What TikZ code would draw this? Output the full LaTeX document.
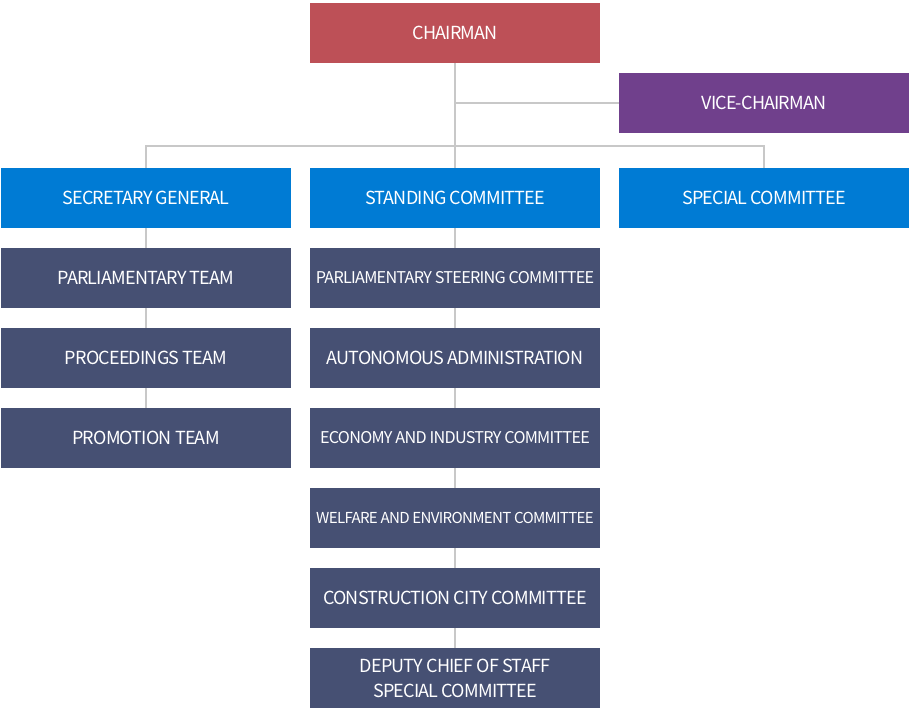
\documentclass[tikz,border=0pt]{standalone}
\usepackage{fontspec}
\setmainfont[LetterSpace=-4.5]{Noto Sans CJK KR}
\definecolor{chairred}{RGB}{189,80,87}
\definecolor{vicepurple}{RGB}{112,64,140}
\definecolor{headblue}{RGB}{0,123,212}
\definecolor{teamnavy}{RGB}{70,80,115}
\definecolor{linkgray}{RGB}{200,200,200}
\begin{document}
\begin{tikzpicture}[x=1pt,y=-1pt,
  box/.style={rectangle, minimum width=290pt, minimum height=60pt, inner sep=0pt, text=white, font=\fontsize{18}{25}\selectfont, align=center},
  small/.style={font=\fontsize{16.2}{20}\selectfont},
  tiny/.style={font=\fontsize{15.1}{20}\selectfont},
  link/.style={draw=linkgray, line width=2pt}]
\useasboundingbox (0,0) rectangle (910,720);
\node[box, fill=chairred] (chair) at (455,33){CHAIRMAN};
\node[box, fill=vicepurple] (vice) at (764,103){VICE-CHAIRMAN};
\node[box, fill=headblue] (secgen) at (146,198){SECRETARY GENERAL};
\node[box, fill=headblue] (standing) at (455,198){STANDING COMMITTEE};
\node[box, fill=headblue] (special) at (764,198){SPECIAL COMMITTEE};
\coordinate (split) at (455,146);
\draw[link] (chair) -- (standing);
\draw[link] (chair.south |- vice) -- (vice);
\draw[link] (secgen) |- (split) -| (special);
% secretary general teams
\node[box, fill=teamnavy] (parlteam) at (146,278){PARLIAMENTARY TEAM};
\node[box, fill=teamnavy] (proteam) at (146,358){PROCEEDINGS TEAM};
\node[box, fill=teamnavy] (promteam) at (146,438){PROMOTION TEAM};
\draw[link] (secgen) -- (parlteam);
\draw[link] (parlteam) -- (proteam);
\draw[link] (proteam) -- (promteam);
% standing committees
\node[box, small, fill=teamnavy] (steering) at (455,278){PARLIAMENTARY STEERING COMMITTEE};
\node[box, fill=teamnavy] (autonomous) at (455,358){AUTONOMOUS ADMINISTRATION};
\node[box, small, fill=teamnavy] (economy) at (455,438){ECONOMY AND INDUSTRY COMMITTEE};
\node[box, tiny, fill=teamnavy] (welfare) at (455,518){WELFARE AND ENVIRONMENT COMMITTEE};
\node[box, fill=teamnavy] (construct) at (455,598){CONSTRUCTION CITY COMMITTEE};
\node[box, fill=teamnavy] (deputy) at (455,678){DEPUTY CHIEF OF STAFF\\SPECIAL COMMITTEE};
\draw[link] (standing) -- (steering);
\draw[link] (steering) -- (autonomous);
\draw[link] (autonomous) -- (economy);
\draw[link] (economy) -- (welfare);
\draw[link] (welfare) -- (construct);
\draw[link] (construct) -- (deputy);
\end{tikzpicture}
\end{document}
